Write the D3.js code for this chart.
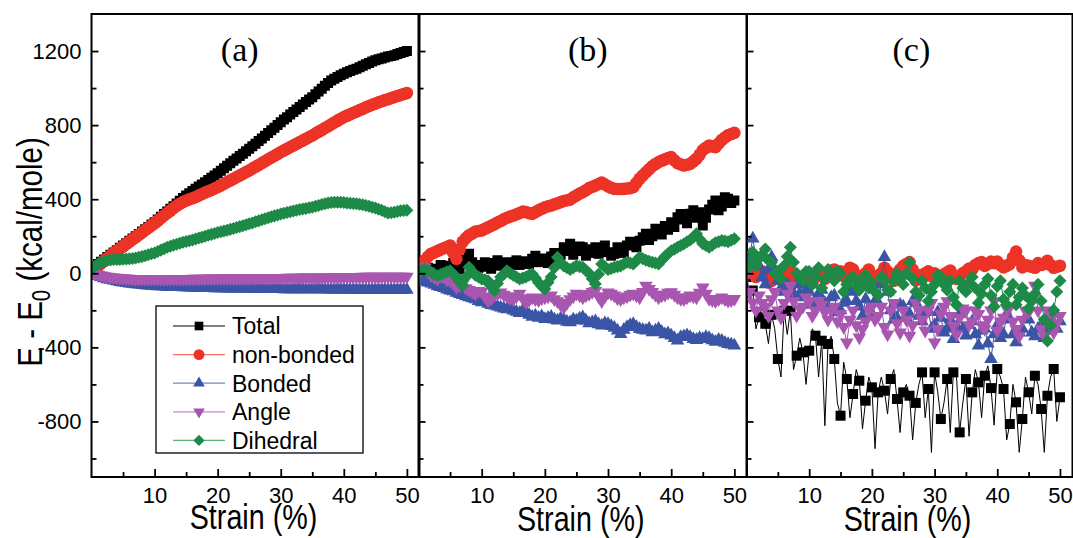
<!DOCTYPE html>
<html><head><meta charset="utf-8">
<script src="https://cdn.jsdelivr.net/npm/d3@7"></script>
<style>body{margin:0;background:#fff;} svg{display:block;}</style>
</head><body>
<svg id="chart" width="1073" height="538"></svg>
<script>
// ---------------- data ----------------
const strainFine = [0,0.5,1,1.5,2,2.5,3,3.5,4,4.5,5,5.5,6,6.5,7,7.5,8,8.5,9,9.5,10,10.5,11,11.5,12,12.5,13,13.5,14,14.5,15,15.5,16,16.5,17,17.5,18,18.5,19,19.5,20,20.5,21,21.5,22,22.5,23,23.5,24,24.5,25,25.5,26,26.5,27,27.5,28,28.5,29,29.5,30,30.5,31,31.5,32,32.5,33,33.5,34,34.5,35,35.5,36,36.5,37,37.5,38,38.5,39,39.5,40,40.5,41,41.5,42,42.5,43,43.5,44,44.5,45,45.5,46,46.5,47,47.5,48,48.5,49,49.5,50];

const seriesNames = ["Total", "non-bonded", "Bonded", "Angle", "Dihedral"];
const panelLabels = ["(a)", "(b)", "(c)"];
const xTickValues = [10, 20, 30, 40, 50];
const xMinorTickValues = [5, 15, 25, 35, 45];
const yTickValues = [1200, 800, 400, 0, -400, -800];
const yMinorTickValues = [1000, 600, 200, -200, -600, -1000];
const xDomain = [0, 52];
const yDomain = [-1100, 1400];

// panel (a) - sampled every 0.5 %
const a_total = [25,37,50,62,75,88,100,112,125,138,
  150,162,175,188,200,212,225,238,250,263,
  276,290,305,320,334,348,362,377,391,406,
  420,432,444,456,468,480,492,504,516,528,
  540,553,567,580,594,607,620,633,646,659,
  672,686,700,714,728,743,757,772,786,801,
  816,830,843,857,871,885,898,912,925,938,
  951,967,982,997,1012,1027,1041,1051,1060,1069,
  1078,1085,1092,1099,1105,1113,1120,1128,1135,1143,
  1150,1155,1160,1165,1170,1173,1177,1184,1190,1195,
  1200];
const a_nonbonded = [5,20,35,52,68,82,95,108,120,133,
  145,158,170,183,195,208,220,233,245,258,
  270,284,298,312,325,338,352,364,375,385,
  393,399,405,412,420,428,436,443,450,458,
  465,474,483,492,501,510,519,528,537,546,
  555,565,575,585,595,605,615,625,634,644,
  654,663,672,681,690,699,708,717,726,735,
  744,754,764,774,784,794,804,814,824,834,
  843,851,858,866,873,881,888,896,903,910,
  917,923,929,935,940,946,951,957,962,968,
  973];
const a_bonded = [0,-8,-15,-21,-27,-32,-36,-40,-44,-47,
  -50,-53,-55,-57,-59,-61,-63,-65,-66,-68,
  -69,-70,-71,-72,-73,-74,-74,-75,-75,-76,
  -76,-77,-77,-78,-78,-79,-79,-80,-80,-81,
  -81,-81,-81,-82,-82,-82,-82,-83,-83,-83,
  -83,-84,-84,-84,-84,-85,-85,-85,-85,-85,
  -85,-86,-86,-86,-86,-86,-86,-87,-87,-87,
  -87,-87,-87,-87,-87,-88,-88,-88,-88,-88,
  -88,-88,-88,-89,-89,-89,-89,-89,-89,-89,
  -89,-90,-90,-90,-90,-90,-90,-90,-90,-90,
  -90];
const a_angle = [0,-4,-8,-12,-15,-18,-20,-22,-24,-26,
  -27,-28,-29,-30,-30,-31,-31,-31,-31,-31,
  -31,-31,-31,-31,-31,-31,-30,-30,-30,-30,
  -30,-30,-29,-29,-29,-29,-29,-28,-28,-28,
  -28,-28,-28,-28,-27,-27,-27,-27,-27,-27,
  -26,-26,-26,-26,-26,-26,-25,-25,-25,-25,
  -25,-25,-24,-24,-24,-24,-24,-23,-23,-23,
  -23,-23,-22,-22,-22,-22,-21,-21,-21,-21,
  -20,-20,-20,-20,-20,-20,-19,-19,-19,-19,
  -19,-19,-18,-18,-18,-18,-18,-18,-18,-18,
  -18];
const a_dihedral = [20,38,50,58,65,69,72,74,75,75,
  76,77,78,80,82,86,90,95,100,105,
  110,118,125,133,140,146,152,157,162,167,
  172,176,180,185,190,195,200,205,210,215,
  220,224,228,232,237,242,247,252,257,262,
  267,272,278,283,289,295,300,305,310,315,
  320,324,328,332,336,340,344,347,350,354,
  357,362,366,371,375,379,382,384,384,383,
  382,380,378,377,375,373,370,366,362,357,
  352,346,340,332,325,327,330,334,338,339,
  340];

// panel (b) - sampled every 0.5 %
const b_total = [0,15,10,30,25,5,20,45,40,20,
  30,55,33,20,50,75,105,60,40,30,
  45,60,35,25,55,70,40,50,60,35,
  50,70,45,55,65,50,78,95,60,80,
  70,55,90,110,80,100,140,120,159,100,
  120,145,140,95,110,130,140,105,125,150,
  114,95,105,140,132,110,150,170,159,140,
  175,195,213,180,200,240,231,210,255,235,
  276,250,303,320,290,270,321,340,300,330,
  258,300,345,370,393,340,360,410,402,380,
  393];
const b_nonbonded = [20,45,70,90,105,112,120,128,135,142,
  150,110,78,130,170,190,205,215,225,228,
  231,240,248,256,265,274,282,292,300,306,
  312,318,325,333,330,325,321,330,340,348,
  356,362,366,372,378,384,390,394,398,410,
  420,430,438,448,460,467,474,482,490,480,
  470,462,456,455,455,456,458,460,465,488,
  510,528,545,562,578,590,600,608,615,622,
  627,610,595,588,582,586,591,604,618,640,
  665,678,690,685,681,700,720,733,745,752,
  758];
const b_bonded = [-20,-35,-45,-50,-55,-62,-70,-75,-80,-88,
  -93,-98,-105,-112,-118,-124,-130,-135,-140,-150,
  -157,-150,-165,-172,-175,-180,-185,-190,-195,-188,
  -202,-208,-215,-200,-210,-225,-235,-228,-240,-232,
  -247,-240,-235,-250,-255,-245,-250,-262,-265,-250,
  -256,-245,-238,-255,-270,-265,-260,-275,-283,-270,
  -274,-285,-295,-310,-328,-305,-290,-280,-274,-290,
  -301,-305,-310,-300,-319,-310,-300,-318,-330,-325,
  -337,-350,-364,-345,-340,-335,-345,-355,-360,-350,
  -355,-345,-350,-362,-370,-360,-365,-375,-382,-385,
  -391];
const b_angle = [20,35,30,10,-10,-20,-30,-15,-20,-35,
  -40,-55,-75,-65,-60,-80,-90,-100,-110,-95,
  -100,-125,-148,-135,-120,-110,-103,-115,-125,-135,
  -140,-125,-110,-135,-157,-145,-130,-140,-145,-135,
  -130,-125,-120,-140,-150,-170,-184,-160,-140,-125,
  -110,-120,-130,-120,-112,-100,-95,-125,-150,-125,
  -103,-110,-120,-135,-140,-130,-125,-115,-110,-120,
  -130,-100,-67,-85,-100,-115,-130,-120,-115,-105,
  -102,-115,-130,-138,-140,-130,-120,-125,-130,-105,
  -76,-110,-139,-145,-150,-140,-130,-140,-148,-145,
  -139];
const b_dihedral = [0,15,23,15,5,-5,-13,-5,0,8,
  14,-5,-20,-45,-67,-20,32,10,-10,-20,
  -31,-35,-40,-70,-94,-55,-20,-5,14,0,
  -10,-20,-31,-25,-20,-10,-4,-25,-50,-70,
  -85,-50,-20,30,86,60,40,30,20,30,
  41,36,32,15,0,-30,-58,-5,50,35,
  20,26,32,36,40,50,59,55,50,68,
  86,78,70,65,60,55,50,70,90,105,
  122,130,140,150,158,170,180,195,213,185,
  160,150,141,152,165,170,177,174,170,178,
  186];

// panel (c) - sampled every 0.5 % (Total symbols on every second point)
const c_total = [-20,-150,-93,-300,-238,-180,-273,-380,-224,-300,
  -463,-560,-202,-330,-202,-520,-445,-350,-427,-600,
  -418,-300,-337,-560,-364,-823,-382,-340,-463,-700,
  -769,-480,-571,-780,-652,-520,-580,-840,-688,-560,
  -616,-947,-643,-560,-634,-760,-571,-520,-679,-860,
  -643,-600,-661,-900,-700,-600,-535,-780,-625,-967,
  -535,-640,-787,-700,-571,-860,-535,-560,-859,-700,
  -571,-880,-643,-520,-589,-780,-553,-500,-620,-820,
  -517,-560,-625,-900,-814,-600,-697,-967,-787,-560,
  -643,-760,-553,-600,-733,-967,-661,-560,-517,-800,
  -670];
const c_nonbonded = [0,30,20,-20,-10,10,-20,-50,-40,-10,
  -30,-20,-10,10,5,-20,-20,-50,-40,-10,
  -30,-50,-20,10,0,-30,-10,15,20,0,
  10,-15,5,30,20,-10,-30,-60,0,20,
  -10,-40,-13,0,30,10,-20,-40,0,20,
  40,50,60,20,-39,-10,-20,0,10,-15,
  0,-25,-20,-5,5,15,-10,-30,-13,0,
  10,25,20,45,55,60,40,50,63,55,
  63,45,32,40,50,85,117,70,32,45,
  40,35,30,55,45,50,68,45,30,35,
  41];
const c_bonded = [30,100,187,90,40,-20,-60,20,87,20,
  -40,-80,-100,-60,-80,-120,-60,-110,-130,-90,
  -100,-170,-150,-110,-90,-160,-180,-130,-120,-210,
  -200,-160,-150,-80,-100,-150,-180,-230,-140,-190,
  -220,-150,-160,-60,87,-100,-200,-250,-240,-170,
  -180,-240,-220,-150,-160,-230,-260,-210,-200,-300,
  -280,-210,-240,-320,-300,-250,-355,-290,-220,-300,
  -337,-280,-260,-330,-391,-310,-300,-380,-463,-330,
  -280,-350,-330,-220,-250,-330,-373,-320,-300,-240,
  -250,-320,-340,-300,-280,-350,-310,-220,-200,-300,
  -260];
const c_angle = [0,-100,-157,-200,-120,-160,-180,-230,-140,-100,
  -200,-240,-160,-110,-67,-150,-229,-190,-180,-130,
  -150,-230,-200,-150,-170,-210,-250,-200,-180,-260,
  -220,-290,-373,-250,-200,-280,-346,-300,-260,-200,
  -180,-250,-230,-180,-290,-330,-200,-160,-270,-320,
  -200,-250,-337,-280,-160,-200,-250,-310,-200,-160,
  -373,-300,-220,-180,-150,-230,-283,-330,-240,-190,
  -200,-280,-260,-200,-220,-280,-300,-250,-200,-150,
  -310,-260,-240,-190,-180,-260,-300,-340,-250,-200,
  -210,-150,-67,-200,-300,-340,-200,-250,-319,-270,
  -230];
const c_dihedral = [20,60,113,40,80,100,131,70,60,0,
  10,-30,40,90,140,60,0,-20,-40,10,
  10,-60,-20,30,-80,-30,20,-10,-40,10,
  0,-100,-60,-30,-20,-70,-90,-40,-10,-80,
  -50,-100,-120,-20,-40,-90,-100,-40,0,-30,
  -60,0,60,-30,-100,-120,-40,-80,-150,-100,
  -60,-10,-20,-60,-90,-40,-130,-170,-40,-80,
  -100,-50,-20,-80,-160,-110,-60,-30,-120,-180,
  -70,-40,-140,-170,-100,-60,-170,-130,-80,-120,
  -190,-150,-110,-60,-150,-250,-365,-280,-200,-100,
  -40];

// ---------------- styles ----------------
const colors = ["#000000", "#ec3326", "#3a55a6", "#a956b0", "#1d8a47"];
const symbolTypes = [d3.symbolSquare, d3.symbolCircle, d3.symbolTriangle, d3.symbolTriangle, d3.symbolSquare];
const symbolSizes = [100, 125, 80, 80, 85];
const symbolRot = [0, 0, 0, 180, 45];

const panels = [
  {label: panelLabels[0], labelX: 23.5, range: [91.5, 419.5], series: [
    {y: a_total, every: 1}, {y: a_nonbonded, every: 1}, {y: a_bonded, every: 1},
    {y: a_angle, every: 1}, {y: a_dihedral, every: 1}]},
  {label: panelLabels[1], labelX: 26.8, range: [418.5, 747], series: [
    {y: b_total, every: 1}, {y: b_nonbonded, every: 1}, {y: b_bonded, every: 1},
    {y: b_angle, every: 1}, {y: b_dihedral, every: 1}]},
  {label: panelLabels[2], labelX: 26.3, range: [746.5, 1072.5], series: [
    {y: c_total, every: 2}, {y: c_nonbonded, every: 1}, {y: c_bonded, every: 1},
    {y: c_angle, every: 1}, {y: c_dihedral, every: 1}]}
];

const svg = d3.select("#chart");
const plotTop = 14, plotBottom = 477;
const y = d3.scaleLinear().domain(yDomain).range([plotBottom, plotTop]);
const font = "'Liberation Sans', Arial, Helvetica, sans-serif";
const fmt = d => String(d);

panels.forEach((p, pi) => {
  const x = d3.scaleLinear().domain(xDomain).range(p.range);
  const clipId = "clip" + pi;
  svg.append("clipPath").attr("id", clipId).append("rect")
    .attr("x", p.range[0]).attr("y", plotTop)
    .attr("width", p.range[1] - p.range[0]).attr("height", plotBottom - plotTop);
  const g = svg.append("g").attr("clip-path", `url(#${clipId})`);
  p.series.forEach((s, si) => {
    const pts = strainFine.map((xv, i) => [xv, s.y[i]]);
    g.append("path").datum(pts)
      .attr("d", d3.line().x(d => x(d[0])).y(d => y(d[1])))
      .attr("fill", "none").attr("stroke", colors[si]).attr("stroke-width", 1);
    const sym = d3.symbol().type(symbolTypes[si]).size(symbolSizes[si]);
    g.selectAll(null).data(pts.filter((d, i) => i % s.every === 0)).enter()
      .append("path").attr("d", sym)
      .attr("transform", d => `translate(${x(d[0])},${y(d[1])}) rotate(${symbolRot[si]})`)
      .attr("fill", colors[si]);
  });

  // axes
  svg.append("g").attr("transform", `translate(0,${plotBottom})`)
    .call(d3.axisBottom(x).tickValues(xTickValues).tickSize(-8).tickPadding(10).tickFormat(fmt));
  svg.append("g").attr("transform", `translate(0,${plotBottom})`)
    .call(d3.axisBottom(x).tickValues(xMinorTickValues).tickSize(-5).tickFormat(""));
  const yAxis = d3.axisLeft(y).tickValues(yTickValues).tickSize(-7).tickPadding(10).tickFormat(fmt);
  if (pi > 0) yAxis.tickFormat("");
  svg.append("g").attr("transform", `translate(${p.range[0]},0)`).call(yAxis);
  svg.append("g").attr("transform", `translate(${p.range[0]},0)`)
    .call(d3.axisLeft(y).tickValues(yMinorTickValues).tickSize(-5).tickFormat(""));

  // frame
  svg.append("rect").attr("x", p.range[0]).attr("y", plotTop)
    .attr("width", p.range[1] - p.range[0]).attr("height", plotBottom - plotTop)
    .attr("fill", "none").attr("stroke", "#000").attr("stroke-width", 2);

  // panel label
  svg.append("text").attr("x", x(p.labelX)).attr("y", 61)
    .attr("text-anchor", "middle").attr("font-family", "'Liberation Serif', 'Times New Roman', serif")
    .attr("font-size", 34).text(p.label);

  // x title
  svg.append("text")
    .attr("transform", `translate(${(p.range[0] + p.range[1]) / 2 - 2},${pi === 0 ? 529 : 531}) scale(0.82,1)`)
    .attr("text-anchor", "middle").attr("font-family", font).attr("font-size", 35)
    .text("Strain (%)");
});

svg.selectAll(".domain").remove();
svg.selectAll(".tick line").attr("stroke", "#000").attr("stroke-width", 1.8);
svg.selectAll(".tick text").attr("font-family", font).attr("font-size", 22).attr("fill", "#000");

// y title
const yt = svg.append("text")
  .attr("transform", "translate(42,252) rotate(-90) scale(0.82,1)")
  .attr("text-anchor", "middle").attr("font-family", font).attr("font-size", 36);
yt.append("tspan").text("E - E");
yt.append("tspan").attr("font-size", 25).attr("dy", 8).text("0");
yt.append("tspan").attr("dy", -8).text(" (kcal/mole)");

// legend
const lg = svg.append("g");
lg.append("rect").attr("x", 156).attr("y", 306).attr("width", 207).attr("height", 147)
  .attr("fill", "#fff").attr("stroke", "#000").attr("stroke-width", 1.3);
seriesNames.forEach((name, si) => {
  const cy = 326 + si * 28.6;
  lg.append("line").attr("x1", 173).attr("x2", 225).attr("y1", cy).attr("y2", cy)
    .attr("stroke", colors[si]).attr("stroke-width", 1.2).attr("stroke-opacity", si === 0 ? 1 : 0.7);
  lg.append("path").attr("d", d3.symbol().type(symbolTypes[si]).size(symbolSizes[si] * 0.75))
    .attr("transform", `translate(199,${cy}) rotate(${symbolRot[si]})`).attr("fill", colors[si]);
  lg.append("text").attr("x", 232).attr("y", cy + 8.3)
    .attr("font-family", font).attr("font-size", 23).text(name);
});
</script>
</body></html>
